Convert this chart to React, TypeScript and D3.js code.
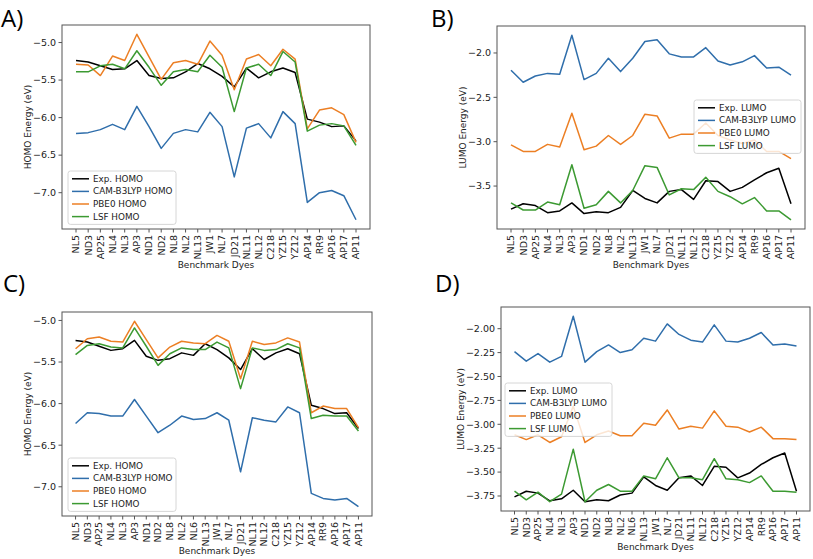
import React from "react";
import * as d3 from "d3";

// ---------- data ----------
const catsAB = ["NL5","ND3","AP25","NL4","NL3","AP3","ND1","ND2","NL8","NL2","NL13","JW1","NL7","JD21","NL11","NL12","C218","YZ15","YZ12","AP14","RR9","AP16","AP17","AP11"];
const catsCD = ["NL5","ND3","AP25","NL4","NL3","AP3","ND1","ND2","NL8","NL2","NL6","NL13","JW1","NL7","JD21","NL11","NL12","C218","YZ15","YZ12","AP14","RR9","AP16","AP17","AP11"];

// Panel A (HOMO)
const homoExpA = [-5.24,-5.26,-5.31,-5.36,-5.35,-5.24,-5.44,-5.48,-5.47,-5.39,-5.28,-5.35,-5.45,-5.59,-5.34,-5.47,-5.39,-5.34,-5.40,-6.02,-6.06,-6.12,-6.11,-6.31];
const homoCamA = [-6.21,-6.20,-6.16,-6.09,-6.16,-5.85,-6.12,-6.41,-6.21,-6.16,-6.19,-5.93,-6.12,-6.79,-6.14,-6.08,-6.27,-5.92,-6.08,-7.13,-7.00,-6.97,-7.04,-7.36];
const homoPbeA = [-5.29,-5.30,-5.44,-5.18,-5.24,-4.89,-5.19,-5.49,-5.27,-5.24,-5.29,-4.98,-5.17,-5.63,-5.22,-5.16,-5.31,-5.09,-5.22,-6.15,-5.90,-5.87,-5.96,-6.33];
const homoLsfA = [-5.39,-5.39,-5.31,-5.29,-5.35,-5.11,-5.33,-5.57,-5.39,-5.36,-5.39,-5.17,-5.33,-5.92,-5.34,-5.29,-5.44,-5.12,-5.26,-6.18,-6.10,-6.08,-6.11,-6.37];

// Panel B (LUMO)
const lumoExpB = [-3.76,-3.70,-3.72,-3.80,-3.78,-3.69,-3.81,-3.79,-3.80,-3.74,-3.55,-3.64,-3.69,-3.56,-3.54,-3.65,-3.44,-3.45,-3.56,-3.515,-3.43,-3.35,-3.30,-3.70];
const lumoCamB = [-2.195,-2.33,-2.26,-2.23,-2.24,-1.80,-2.30,-2.23,-2.06,-2.21,-2.06,-1.87,-1.85,-2.01,-2.045,-2.045,-1.94,-2.09,-2.135,-2.10,-2.03,-2.17,-2.16,-2.25];
const lumoPbeB = [-3.035,-3.11,-3.11,-3.03,-3.06,-2.68,-3.09,-3.05,-2.93,-3.03,-2.93,-2.69,-2.71,-2.96,-2.915,-2.915,-2.79,-2.93,-2.98,-3.02,-2.98,-3.11,-3.11,-3.19];
const lumoLsfB = [-3.69,-3.77,-3.77,-3.68,-3.71,-3.26,-3.75,-3.71,-3.56,-3.69,-3.55,-3.27,-3.29,-3.60,-3.53,-3.54,-3.40,-3.56,-3.62,-3.70,-3.63,-3.78,-3.78,-3.88];

// Panel C (HOMO)
const homoExpC = [-5.24,-5.26,-5.31,-5.36,-5.34,-5.24,-5.43,-5.48,-5.46,-5.39,-5.42,-5.28,-5.35,-5.45,-5.59,-5.34,-5.47,-5.39,-5.34,-5.40,-6.02,-6.06,-6.12,-6.11,-6.30];
const homoCamC = [-6.24,-6.11,-6.12,-6.15,-6.15,-5.95,-6.15,-6.35,-6.26,-6.15,-6.19,-6.18,-6.11,-6.20,-6.82,-6.17,-6.20,-6.22,-6.04,-6.11,-7.08,-7.14,-7.16,-7.14,-7.24];
const homoPbeC = [-5.34,-5.22,-5.20,-5.25,-5.26,-5.01,-5.23,-5.45,-5.32,-5.25,-5.27,-5.28,-5.18,-5.25,-5.70,-5.25,-5.29,-5.27,-5.21,-5.26,-6.11,-6.03,-6.06,-6.06,-6.29];
const homoLsfC = [-5.41,-5.30,-5.28,-5.32,-5.33,-5.09,-5.31,-5.54,-5.40,-5.33,-5.35,-5.35,-5.26,-5.33,-5.82,-5.33,-5.36,-5.35,-5.28,-5.33,-6.18,-6.14,-6.15,-6.15,-6.33];

// Panel D (LUMO)
const lumoExpD = [-3.76,-3.70,-3.72,-3.80,-3.78,-3.69,-3.81,-3.79,-3.80,-3.74,-3.72,-3.55,-3.64,-3.69,-3.56,-3.54,-3.64,-3.44,-3.45,-3.56,-3.51,-3.42,-3.35,-3.30,-3.70];
const lumoCamD = [-2.24,-2.34,-2.26,-2.35,-2.29,-1.87,-2.35,-2.24,-2.17,-2.25,-2.22,-2.10,-2.13,-1.95,-2.06,-2.12,-2.14,-1.96,-2.13,-2.14,-2.10,-2.04,-2.17,-2.16,-2.18];
const lumoPbeD = [-3.11,-3.16,-3.11,-3.19,-3.13,-2.81,-3.19,-3.11,-3.07,-3.12,-3.12,-2.99,-3.01,-2.85,-3.05,-3.02,-3.04,-2.86,-3.02,-3.03,-3.08,-3.03,-3.15,-3.15,-3.16];
const lumoLsfD = [-3.70,-3.79,-3.71,-3.81,-3.73,-3.26,-3.81,-3.69,-3.63,-3.70,-3.70,-3.54,-3.57,-3.35,-3.56,-3.56,-3.58,-3.36,-3.57,-3.58,-3.61,-3.54,-3.70,-3.70,-3.71];

const homoTicks = [-5.0, -5.5, -6.0, -6.5, -7.0];
const lumoTicksB = [-2.0, -2.5, -3.0, -3.5];
const lumoTicksD = [-2.0, -2.25, -2.5, -2.75, -3.0, -3.25, -3.5, -3.75];

const homoNames = ["Exp. HOMO", "CAM-B3LYP HOMO", "PBE0 HOMO", "LSF HOMO"];
const lumoNames = ["Exp. LUMO", "CAM-B3LYP LUMO", "PBE0 LUMO", "LSF LUMO"];
const colors = ["#000000", "#2f6eab", "#ec7f24", "#3c9a32"];

const FONT = "DejaVu Sans, sans-serif";

type PanelProps = {
  label: string;
  labelX: number;
  labelY: number;
  cats: string[];
  series: number[][];
  names: string[];
  ticks: number[];
  fmt: string;
  box: { x0: number; x1: number; y0: number; y1: number };
  yLabel: string;
  yLabelX: number;
  xLabelY: number;
  legend: { x: number; y: number; w: number };
};

function Panel(p: PanelProps) {
  const { x0, x1, y0, y1 } = p.box;
  const all = p.series.flat();
  const mn = d3.min(all) as number;
  const mx = d3.max(all) as number;
  const pad = (mx - mn) * 0.05;
  const x = d3.scalePoint<string>().domain(p.cats).range([x0, x1]).padding(1.15);
  const y = d3.scaleLinear().domain([mn - pad, mx + pad]).range([y1, y0]);
  const line = d3
    .line<number>()
    .x((_, i) => x(p.cats[i]) as number)
    .y((v) => y(v));
  const f = d3.format(p.fmt);
  const fmtTick = (v: number) => f(v).replace("-", "\u2212");
  const lg = p.legend;
  const rowH = 12.6;
  return (
    <g>
      <text x={p.labelX} y={p.labelY} fontFamily="Open Sans, Noto Sans, sans-serif" fontSize={24} fill="#000">
        {p.label}
      </text>
      {p.series.map((s, i) => (
        <path key={i} d={line(s) || ""} fill="none" stroke={colors[i]} strokeWidth={1.5} strokeLinejoin="round" />
      ))}
      <rect x={x0} y={y0} width={x1 - x0} height={y1 - y0} fill="none" stroke="#555" strokeWidth={1} />
      {p.ticks.map((t) => (
        <g key={t}>
          <line x1={x0 - 3.5} x2={x0} y1={y(t)} y2={y(t)} stroke="#555" />
          <text x={x0 - 6} y={y(t)} dy="0.35em" textAnchor="end" fontFamily={FONT} fontSize={9.5} fill="#222">
            {fmtTick(t)}
          </text>
        </g>
      ))}
      {p.cats.map((c) => {
        const cx = x(c) as number;
        return (
          <g key={c}>
            <line x1={cx} x2={cx} y1={y1} y2={y1 + 3.5} stroke="#555" />
            <text
              transform={`translate(${cx},${y1 + 6}) rotate(-90)`}
              dy="0.35em"
              textAnchor="end"
              fontFamily={FONT}
              fontSize={9.5}
              fill="#222"
            >
              {c}
            </text>
          </g>
        );
      })}
      <text
        transform={`translate(${p.yLabelX},${(y0 + y1) / 2}) rotate(-90)`}
        dy="0.35em"
        textAnchor="middle"
        fontFamily={FONT}
        fontSize={9}
        fill="#222"
      >
        {p.yLabel}
      </text>
      <text x={(x0 + x1) / 2} y={p.xLabelY} dy="0.35em" textAnchor="middle" fontFamily={FONT} fontSize={9} fill="#222">
        Benchmark Dyes
      </text>
      <g>
        <rect x={lg.x} y={lg.y} width={lg.w} height={rowH * 4 + 3} rx={2.5} fill="#fff" fillOpacity={0.8} stroke="#ccc" strokeWidth={0.8} />
        {p.names.map((n, i) => {
          const ry = lg.y + 7.8 + i * rowH;
          return (
            <g key={n}>
              <line x1={lg.x + 4} x2={lg.x + 21} y1={ry} y2={ry} stroke={colors[i]} strokeWidth={1.5} />
              <text x={lg.x + 25} y={ry} dy="0.35em" fontFamily={FONT} fontSize={8.8} fill="#222">
                {n}
              </text>
            </g>
          );
        })}
      </g>
    </g>
  );
}

export default function App() {
  return (
    <svg width={813} height={559} style={{ position: "absolute", left: 0, top: 0, background: "#fff" }}>
      <rect width={813} height={559} fill="#fff" />
      <Panel
        label="A)"
        labelX={1}
        labelY={27}
        cats={catsAB}
        series={[homoExpA, homoCamA, homoPbeA, homoLsfA]}
        names={homoNames}
        ticks={homoTicks}
        fmt=".1f"
        box={{ x0: 62, x1: 370, y0: 25, y1: 229 }}
        yLabel="HOMO Energy (eV)"
        yLabelX={28}
        xLabelY={265}
        legend={{ x: 68, y: 171, w: 108 }}
      />
      <Panel
        label="B)"
        labelX={431}
        labelY={27}
        cats={catsAB}
        series={[lumoExpB, lumoCamB, lumoPbeB, lumoLsfB]}
        names={lumoNames}
        ticks={lumoTicksB}
        fmt=".1f"
        box={{ x0: 497, x1: 805, y0: 26, y1: 229 }}
        yLabel="LUMO Energy (eV)"
        yLabelX={463}
        xLabelY={265}
        legend={{ x: 694, y: 100, w: 107 }}
      />
      <Panel
        label="C)"
        labelX={3}
        labelY={292}
        cats={catsCD}
        series={[homoExpC, homoCamC, homoPbeC, homoLsfC]}
        names={homoNames}
        ticks={homoTicks}
        fmt=".1f"
        box={{ x0: 62, x1: 372, y0: 312, y1: 516 }}
        yLabel="HOMO Energy (eV)"
        yLabelX={28}
        xLabelY={551}
        legend={{ x: 68, y: 458, w: 108 }}
      />
      <Panel
        label="D)"
        labelX={435}
        labelY={292}
        cats={catsCD}
        series={[lumoExpD, lumoCamD, lumoPbeD, lumoLsfD]}
        names={lumoNames}
        ticks={lumoTicksD}
        fmt=".2f"
        box={{ x0: 501, x1: 810, y0: 307, y1: 511 }}
        yLabel="LUMO Energy (eV)"
        yLabelX={461}
        xLabelY={547}
        legend={{ x: 505, y: 383, w: 107 }}
      />
    </svg>
  );
}
